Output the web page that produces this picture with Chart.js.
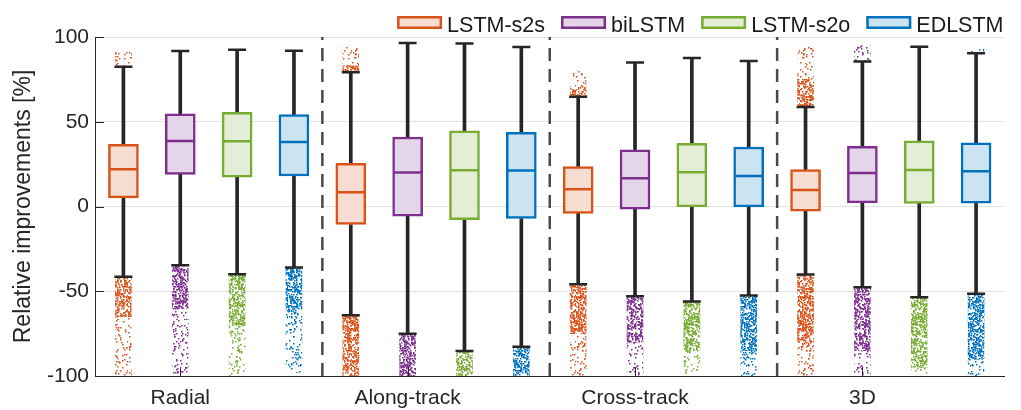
<!DOCTYPE html>
<html><head><meta charset="utf-8">
<script src="https://cdn.jsdelivr.net/npm/chart.js@4/dist/chart.umd.min.js"></script>
<style>html,body{margin:0;padding:0;background:#fff;}#c{display:block;}</style>
</head><body>
<canvas id="c" width="1021" height="410"></canvas>
<script>
// ---- data (16 boxes, ordered group by group: LSTM-s2s, biLSTM, LSTM-s2o, EDLSTM) ----
const models = ['LSTM-s2s', 'biLSTM', 'LSTM-s2o', 'EDLSTM'];
const groups = ['Radial', 'Along-track', 'Cross-track', '3D'];
const groupTicks = [2, 6, 10, 14];
const separators = [4.5, 8.5, 12.5];
const yTicks = [-100, -50, 0, 50, 100];

const q1 = [5.1, 19.0, 17.3, 18.0, -10.6, -5.7, -7.7, -7.1, -4.1, -1.6, -0.2, -0.2, -2.8, 2.1, 1.8, 1.9];
const median = [22.0, 38.7, 38.5, 38.1, 8.4, 20.0, 21.4, 21.2, 10.2, 16.7, 20.2, 18.0, 9.8, 19.8, 21.6, 20.8];
const q3 = [36.7, 54.6, 55.6, 54.2, 25.5, 41.0, 44.6, 43.8, 23.6, 33.4, 37.3, 35.1, 21.8, 35.5, 38.7, 37.5];
const whiskerLow = [-41.5, -34.6, -39.9, -36.0, -64.1, -75.1, -85.3, -82.7, -45.8, -53.0, -56.0, -52.5, -40.1, -47.7, -53.6, -51.5];
const whiskerHigh = [82.5, 91.7, 92.5, 91.9, 79.2, 96.4, 96.1, 94.1, 64.8, 84.9, 87.6, 85.8, 58.7, 85.6, 94.3, 90.4];
// outlier clouds: dense part then sparse part
const lowOutlierDense = [-65, -60, -70, -62, -100, -100, -100, -100, -75, -80, -85, -85, -80, -85, -95, -90];
const lowOutlierMin = [-100, -99, -100, -98, -100, -100, -100, -100, -100, -100, -100, -100, -100, -100, -100, -100];
const highOutlierDense = [null, null, null, null, 83, null, null, null, 69, null, null, null, 75, null, null, null];
const highOutlierMax = [91, null, null, null, 94, null, null, null, 80, null, null, null, 94, 95, 95, 93];

// ---- styles ----
const FONT = "'Liberation Sans', Arial, sans-serif";
const lineColors = ['#D95319', '#7E2F8E', '#77AC30', '#0072BD'];
const fillColors = ['#F7DDD1', '#E5D5E8', '#E4EED6', '#CCE3F2'];
const DARK = '#262626';

const canvas = document.getElementById('c');
const ctx0 = canvas.getContext('2d');

// texture for the outlier clouds (style only)
function dotPattern(color, w, h, count, seed) {
  const c = document.createElement('canvas');
  c.width = w; c.height = h;
  const g = c.getContext('2d');
  g.fillStyle = color;
  let s = seed >>> 0;
  const next = () => {
    s = (s + 0x6D2B79F5) >>> 0;
    let t = s;
    t = Math.imul(t ^ (t >>> 15), t | 1);
    t ^= t + Math.imul(t ^ (t >>> 7), t | 61);
    return ((t ^ (t >>> 14)) >>> 0) / 4294967296;
  };
  for (let k = 0; k < count; k++) {
    g.fillRect(Math.floor(next() * w), Math.floor(next() * h), 1.5, 1.5);
  }
  return ctx0.createPattern(c, 'repeat');
}

const datasets = [];

// separators
separators.forEach(v => datasets.push({
  type: 'line', data: [{x: v, y: -100}, {x: v, y: 100}],
  borderColor: '#4a4a4a', borderWidth: 2.5, borderDash: [13, 8],
  pointRadius: 0, fill: false, order: 20
}));

// outliers
models.forEach((m, mi) => {
  const dense = [], sparse = [];
  q1.forEach((_, i) => {
    if (i % 4 !== mi) return;
    const x = i + 1;
    dense.push({x, y: [lowOutlierDense[i], whiskerLow[i]]});
    if (lowOutlierMin[i] < lowOutlierDense[i]) sparse.push({x, y: [lowOutlierMin[i], lowOutlierDense[i]]});
    if (highOutlierMax[i] !== null) {
      if (highOutlierDense[i] !== null) {
        dense.push({x, y: [whiskerHigh[i], highOutlierDense[i]]});
        sparse.push({x, y: [highOutlierDense[i], highOutlierMax[i]]});
      } else {
        sparse.push({x, y: [whiskerHigh[i], highOutlierMax[i]]});
      }
    }
  });
  datasets.push({
    type: 'bar', data: dense, grouped: false, barThickness: 16, borderWidth: 0,
    backgroundColor: dotPattern(lineColors[mi], 32, 64, 760, 11 + mi), order: 15
  });
  datasets.push({
    type: 'bar', data: sparse, grouped: false, barThickness: 16, borderWidth: 0,
    backgroundColor: dotPattern(lineColors[mi], 32, 64, 170, 101 + mi), order: 15
  });
});

// whiskers
const whiskerData = [];
q1.forEach((_, i) => {
  whiskerData.push({x: i + 1, y: [q3[i], whiskerHigh[i]]});
  whiskerData.push({x: i + 1, y: [whiskerLow[i], q1[i]]});
});
datasets.push({
  type: 'bar', data: whiskerData, grouped: false, barThickness: 3,
  backgroundColor: DARK, borderWidth: 0, order: 10
});

// boxes and medians
models.forEach((m, mi) => {
  const boxes = [], meds = [];
  q1.forEach((_, i) => {
    if (i % 4 !== mi) return;
    boxes.push({x: i + 1, y: [q1[i], q3[i]]});
    meds.push({x: i + 1, y: median[i]});
  });
  datasets.push({
    type: 'bar', label: m, data: boxes, grouped: false, barThickness: 30,
    backgroundColor: fillColors[mi], borderColor: lineColors[mi], borderWidth: 2.5,
    borderSkipped: false, order: 5
  });
  datasets.push({
    type: 'scatter', data: meds, pointStyle: 'line', pointRadius: 14,
    pointBorderWidth: 2.5, pointBorderColor: lineColors[mi], order: 3
  });
});

// whisker caps
const capData = [];
q1.forEach((_, i) => {
  capData.push({x: i + 1, y: whiskerHigh[i]});
  capData.push({x: i + 1, y: whiskerLow[i]});
});
datasets.push({
  type: 'scatter', data: capData, pointStyle: 'line', pointRadius: 9,
  pointBorderWidth: 2.5, pointBorderColor: DARK, order: 1
});

// legend + inward ticks
const decor = {
  id: 'decor',
  afterDraw(chart) {
    const ctx = chart.ctx, ca = chart.chartArea;
    const xs = chart.scales.x, ys = chart.scales.y;
    ctx.save();
    ctx.strokeStyle = DARK; ctx.lineWidth = 1;
    yTicks.forEach(v => {
      const y = Math.round(ys.getPixelForValue(v)) + 0.5;
      ctx.beginPath(); ctx.moveTo(ca.left, y); ctx.lineTo(ca.left + 9, y); ctx.stroke();
    });
    groupTicks.forEach(v => {
      const x = Math.round(xs.getPixelForValue(v)) + 0.5;
      ctx.beginPath(); ctx.moveTo(x, ca.bottom); ctx.lineTo(x, ca.bottom - 9); ctx.stroke();
    });
    // legend
    ctx.font = '21.5px ' + FONT;
    const sw = 45, sh = 13, gapT = 5, gapI = 16, top = 16, base = 31.5;
    const widths = models.map(m => ctx.measureText(m).width);
    let total = 0;
    widths.forEach((w, i) => { total += sw + gapT + w + (i < models.length - 1 ? gapI : 0); });
    let x = ca.right - 1 - total;
    models.forEach((m, i) => {
      ctx.fillStyle = fillColors[i];
      ctx.fillRect(x, top, sw, sh);
      ctx.strokeStyle = lineColors[i]; ctx.lineWidth = 2.5;
      ctx.strokeRect(x + 1.25, top + 1.25, sw - 2.5, sh - 2.5);
      ctx.fillStyle = '#1a1a1a';
      ctx.textBaseline = 'alphabetic'; ctx.textAlign = 'left';
      ctx.fillText(m, x + sw + gapT, base);
      x += sw + gapT + widths[i] + gapI;
    });
    ctx.restore();
  }
};

new Chart(canvas, {
  type: 'bar',
  data: { datasets },
  plugins: [decor],
  options: {
    responsive: false, animation: false, devicePixelRatio: 1, events: [],
    layout: { padding: { top: 37, right: 13, left: 0, bottom: 0 } },
    plugins: { legend: { display: false }, tooltip: { enabled: false } },
    scales: {
      x: {
        type: 'linear', min: 0.5, max: 16.5, offset: false,
        grid: { display: false, drawTicks: false },
        border: { display: true, color: DARK, width: 1 },
        afterBuildTicks: s => { s.ticks = groupTicks.map(v => ({ value: v })); },
        afterFit: s => { s.height = 34; },
        ticks: {
          autoSkip: false, maxRotation: 0, padding: 10, color: DARK,
          font: { family: FONT, size: 21 },
          callback: v => { const k = (v - 2) / 4; return Number.isInteger(k) ? groups[k] : ''; }
        }
      },
      y: {
        min: -100, max: 100,
        afterBuildTicks: s => { s.ticks = yTicks.map(v => ({ value: v })); },
        afterFit: s => { s.width = 95; },
        grid: { color: '#e2e2e2', lineWidth: 1, drawTicks: false },
        border: { display: true, color: DARK, width: 1 },
        ticks: { padding: 6, color: DARK, font: { family: FONT, size: 21 } },
        title: {
          display: true, text: 'Relative improvements [%]', color: DARK,
          font: { family: FONT, size: 23 }, padding: { top: 10, bottom: 0 }
        }
      }
    }
  }
});
</script>
</body></html>
